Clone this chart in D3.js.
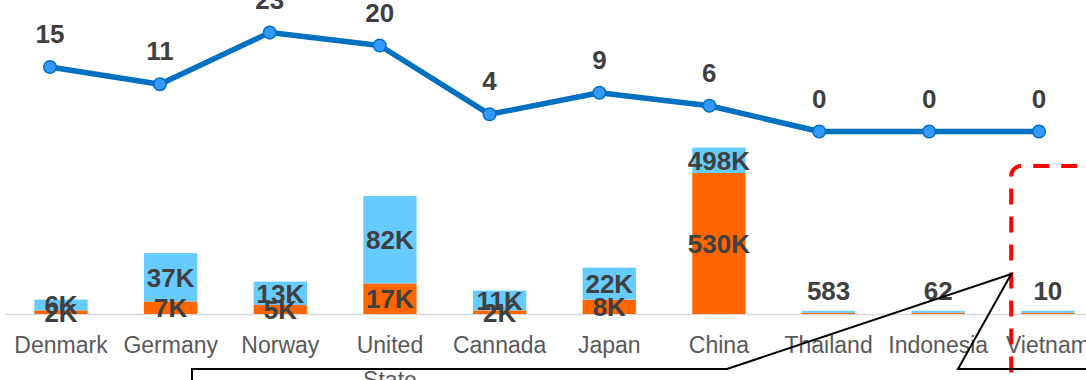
<!DOCTYPE html>
<html>
<head>
<meta charset="utf-8">
<script src="https://cdn.jsdelivr.net/npm/d3@7/dist/d3.min.js"></script>
<style>
  html, body { margin: 0; padding: 0; background: #ffffff; overflow: hidden; }
  svg { display: block; }
</style>
</head>
<body>
<div id="chart"></div>
<script>
// Countries shown along the axis
const categories = ["Denmark", "Germany", "Norway", "United State", "Cannada", "Japan", "China", "Thailand", "Indonesia", "Vietnam"];
// Lower stacked segment (orange)
const orangeValues = [2000, 7000, 5000, 17000, 2000, 8000, 530000, 150, 20, 4];
// Upper stacked segment (light blue)
const blueValues = [6000, 37000, 13000, 82000, 11000, 22000, 498000, 583, 62, 10];
// Line series drawn above the bars
const lineValues = [15, 11, 23, 20, 4, 9, 6, 0, 0, 0];

const W = 1086, H = 380;
const baseY = 314;

const svg = d3.select("#chart").append("svg")
  .attr("width", W).attr("height", H);

const table = categories.map((c, i) => ({ category: c, orange: orangeValues[i], blue: blueValues[i] }));
const keys = ["orange", "blue"];
const colors = { orange: "#FF6600", blue: "#66CCFF" };
// Smallest drawn thickness of a segment, so near-zero stacks stay visible
const minThickness = { orange: 1.2, blue: 2 };

// Bar positions
const x = d3.scaleBand()
  .domain(categories)
  .range([6.2, 1102.7])
  .paddingInner(0.514)
  .paddingOuter(0.257);

// Line point positions
const xLine = d3.scalePoint()
  .domain(categories)
  .range([50, 1039]);

// Piecewise value scale keeps small and very large stacks readable together
const y = d3.scaleLinear()
  .domain([0, 20000, 100000, 1000000])
  .range([baseY, 278, 195, 149]);

const yLine = d3.scaleLinear()
  .domain([0, 23])
  .range([131.5, 32.6]);

const fmtK = v => v >= 1000 ? d3.format(".0f")(v / 1000) + "K" : d3.format("d")(v);

// Category axis line
svg.append("line")
  .attr("x1", 6).attr("x2", W)
  .attr("y1", baseY + 0.5).attr("y2", baseY + 0.5)
  .attr("stroke", "#D9D9D9").attr("stroke-width", 1.5);

// Stacked bars, laid out in pixel space so each segment sits on the one below
const stacked = d3.stack().keys(keys)(table);

const segments = [];
categories.forEach((c, i) => {
  let bottom = baseY;
  stacked.forEach(layer => {
    const d = layer[i];
    const top = Math.min(y(d[1]), bottom - minThickness[layer.key]);
    segments.push({ key: layer.key, category: c, value: d.data[layer.key], d, top, bottom });
    bottom = top;
  });
});

svg.append("g").selectAll("rect")
  .data(segments)
  .join("rect")
  .attr("x", s => x(s.category))
  .attr("width", x.bandwidth())
  .attr("y", s => s.top)
  .attr("height", s => s.bottom - s.top)
  .attr("fill", s => colors[s.key]);

// Segment value labels
const labelG = svg.append("g")
  .attr("font-family", "'Liberation Sans', Arial, sans-serif")
  .attr("font-weight", "bold")
  .attr("font-size", 26)
  .attr("fill", "#404040")
  .attr("text-anchor", "middle");

segments.forEach(s => {
  const stackH = baseY - y(s.d.data.orange + s.d.data.blue);
  const tiny = stackH < 6;
  let cy;
  if (tiny) {
    if (s.key !== "blue") return;
    cy = s.top - 20;
  } else {
    cy = (s.top + s.bottom) / 2;
  }
  labelG.append("text")
    .attr("x", x(s.category) + x.bandwidth() / 2)
    .attr("y", cy)
    .attr("dy", "0.36em")
    .text(fmtK(s.value));
});

// Line series
const line = d3.line()
  .x((d, i) => xLine(categories[i]))
  .y(d => yLine(d));

svg.append("path")
  .datum(lineValues)
  .attr("fill", "none")
  .attr("stroke", "#0070C0")
  .attr("stroke-width", 5.5)
  .attr("stroke-linejoin", "round")
  .attr("d", line);

svg.append("g").selectAll("circle")
  .data(lineValues)
  .join("circle")
  .attr("cx", (d, i) => xLine(categories[i]))
  .attr("cy", d => yLine(d))
  .attr("r", 6.3)
  .attr("fill", "#3399FF")
  .attr("stroke", "#0070C0")
  .attr("stroke-width", 1.5);

svg.append("g")
  .attr("font-family", "'Liberation Sans', Arial, sans-serif")
  .attr("font-weight", "bold")
  .attr("font-size", 26)
  .attr("fill", "#404040")
  .attr("text-anchor", "middle")
  .selectAll("text")
  .data(lineValues)
  .join("text")
  .attr("x", (d, i) => xLine(categories[i]))
  .attr("y", d => yLine(d) - 24)
  .text(d => d3.format("d")(d));

// Category labels (multi-word names wrap onto two lines)
const catG = svg.append("g")
  .attr("font-family", "'Liberation Sans', Arial, sans-serif")
  .attr("font-size", 23)
  .attr("fill", "#595959")
  .attr("text-anchor", "middle");

categories.forEach(c => {
  const t = catG.append("text")
    .attr("x", x(c) + x.bandwidth() / 2)
    .attr("y", 353);
  c.split(" ").forEach((word, k) => {
    t.append("tspan")
      .attr("x", x(c) + x.bandwidth() / 2)
      .attr("dy", k === 0 ? 0 : 35)
      .text(word);
  });
});

// Highlight frame around the last country
const fx = x("Vietnam") - 10, fy = 166, fr = 10;
const frame = svg.append("g")
  .attr("fill", "none")
  .attr("stroke", "#FF0000")
  .attr("stroke-width", 4)
  .attr("stroke-dasharray", "16 12");
frame.append("path")
  .attr("d", `M${fx + fr},${fy} A${fr},${fr} 0 0 0 ${fx},${fy + fr} V${H + 40}`);
frame.append("path")
  .attr("stroke-dashoffset", 16)
  .attr("d", `M${fx + fr},${fy} H${W + 40}`);

// Callout outline pointing at the frame
svg.append("path")
  .attr("fill", "none")
  .attr("stroke", "#000000")
  .attr("stroke-width", 2)
  .attr("stroke-linejoin", "miter")
  .attr("d", `M192,${H + 40} V369 H727 L${fx},274 L958,369 H${W + 40}`);
</script>
</body>
</html>
